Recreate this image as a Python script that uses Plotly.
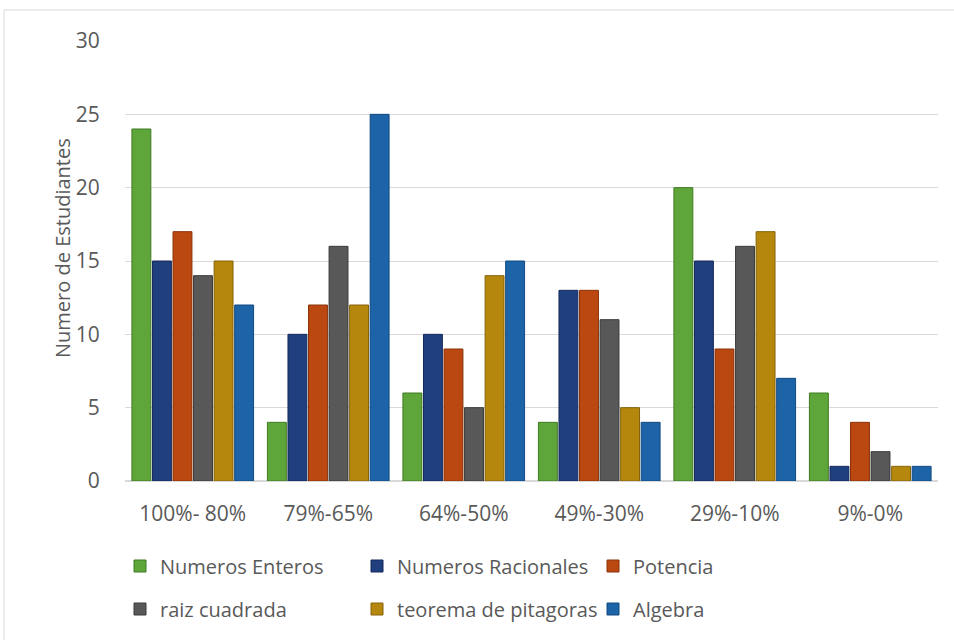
import plotly.graph_objects as go

categories = ["100%- 80%", "79%-65%", "64%-50%", "49%-30%", "29%-10%", "9%-0%"]
series_names = ["Numeros Enteros", "Numeros Racionales", "Potencia",
                "raiz cuadrada", "teorema de pitagoras", "Algebra"]
numeros_enteros = [24, 4, 6, 4, 20, 6]
numeros_racionales = [15, 10, 10, 13, 15, 1]
potencia = [17, 12, 9, 13, 9, 4]
raiz_cuadrada = [14, 16, 5, 11, 16, 2]
teorema_pitagoras = [15, 12, 14, 5, 17, 1]
algebra = [12, 25, 15, 4, 7, 1]
y_ticks = [0, 5, 10, 15, 20, 25, 30]
y_title = "Numero de Estudiantes"

values = [numeros_enteros, numeros_racionales, potencia,
          raiz_cuadrada, teorema_pitagoras, algebra]
colors = ["#5fa63a", "#203f7e", "#bb4810", "#585858", "#b5870c", "#1c63a8"]
edges = ["#3f7a22", "#14295a", "#8a320a", "#3a3a3a", "#86630a", "#124a80"]

FONT = "Open Sans"
TXT = "#595959"
FS_TICK = 21
FS_LEG = 20

# legend text left edges (px) and row centres (px) in the 954x640 canvas
leg_x = [160, 397, 633, 160, 397, 633]
leg_y = [566, 566, 566, 609, 609, 609]

fig = go.Figure()
legends = {}
for i, (name, vals) in enumerate(zip(series_names, values)):
    key = "legend" if i == 0 else f"legend{i + 1}"
    fig.add_trace(go.Bar(
        x=categories, y=vals, name=name, showlegend=True,
        marker=dict(color=colors[i], line=dict(color=edges[i], width=1)),
        legend=key,
    ))
    legends[key] = dict(
        xref="container", yref="container",
        x=(leg_x[i] - 40) / 954, xanchor="left",
        y=1 - leg_y[i] / 640, yanchor="middle",
        font=dict(size=FS_LEG, color=TXT, family=FONT),
        itemwidth=30, bgcolor="rgba(0,0,0,0)", borderwidth=0,
    )

fig.update_layout(
    width=954, height=640, showlegend=True,
    margin=dict(l=125, r=16, t=41, b=159, autoexpand=False),
    paper_bgcolor="white", plot_bgcolor="white",
    barmode="group", bargap=0.09, bargroupgap=0.08,
    font=dict(family=FONT, color=TXT, size=FS_TICK),
    xaxis=dict(showgrid=False, showline=False, ticks="outside", ticklen=14,
               tickcolor="rgba(0,0,0,0)",
               tickfont=dict(size=FS_TICK, color=TXT, family=FONT)),
    yaxis=dict(range=[0, 30], tickvals=y_ticks, showgrid=True,
               gridcolor="#d9d9d9", gridwidth=1, zeroline=True,
               zerolinecolor="#d9d9d9", zerolinewidth=1.5, showline=False,
               ticks="outside", ticklen=20, tickcolor="rgba(0,0,0,0)",
               tickfont=dict(size=FS_TICK, color=TXT, family=FONT)),
    annotations=[dict(text=y_title, textangle=-90, showarrow=False,
                      xref="paper", yref="paper",
                      x=(62 - 125) / 813, y=(481 - 248) / 440,
                      xanchor="center", yanchor="middle",
                      font=dict(size=FS_LEG, color=TXT, family=FONT))],
    shapes=[dict(type="rect", xref="paper", yref="paper",
                 x0=(4 - 125) / 813, x1=1.2, y0=-0.6, y1=(481 - 10) / 440,
                 line=dict(color="#d9d9d9", width=1), fillcolor="rgba(0,0,0,0)",
                 layer="below")],
    **legends,
)

fig.write_html("out.html")
